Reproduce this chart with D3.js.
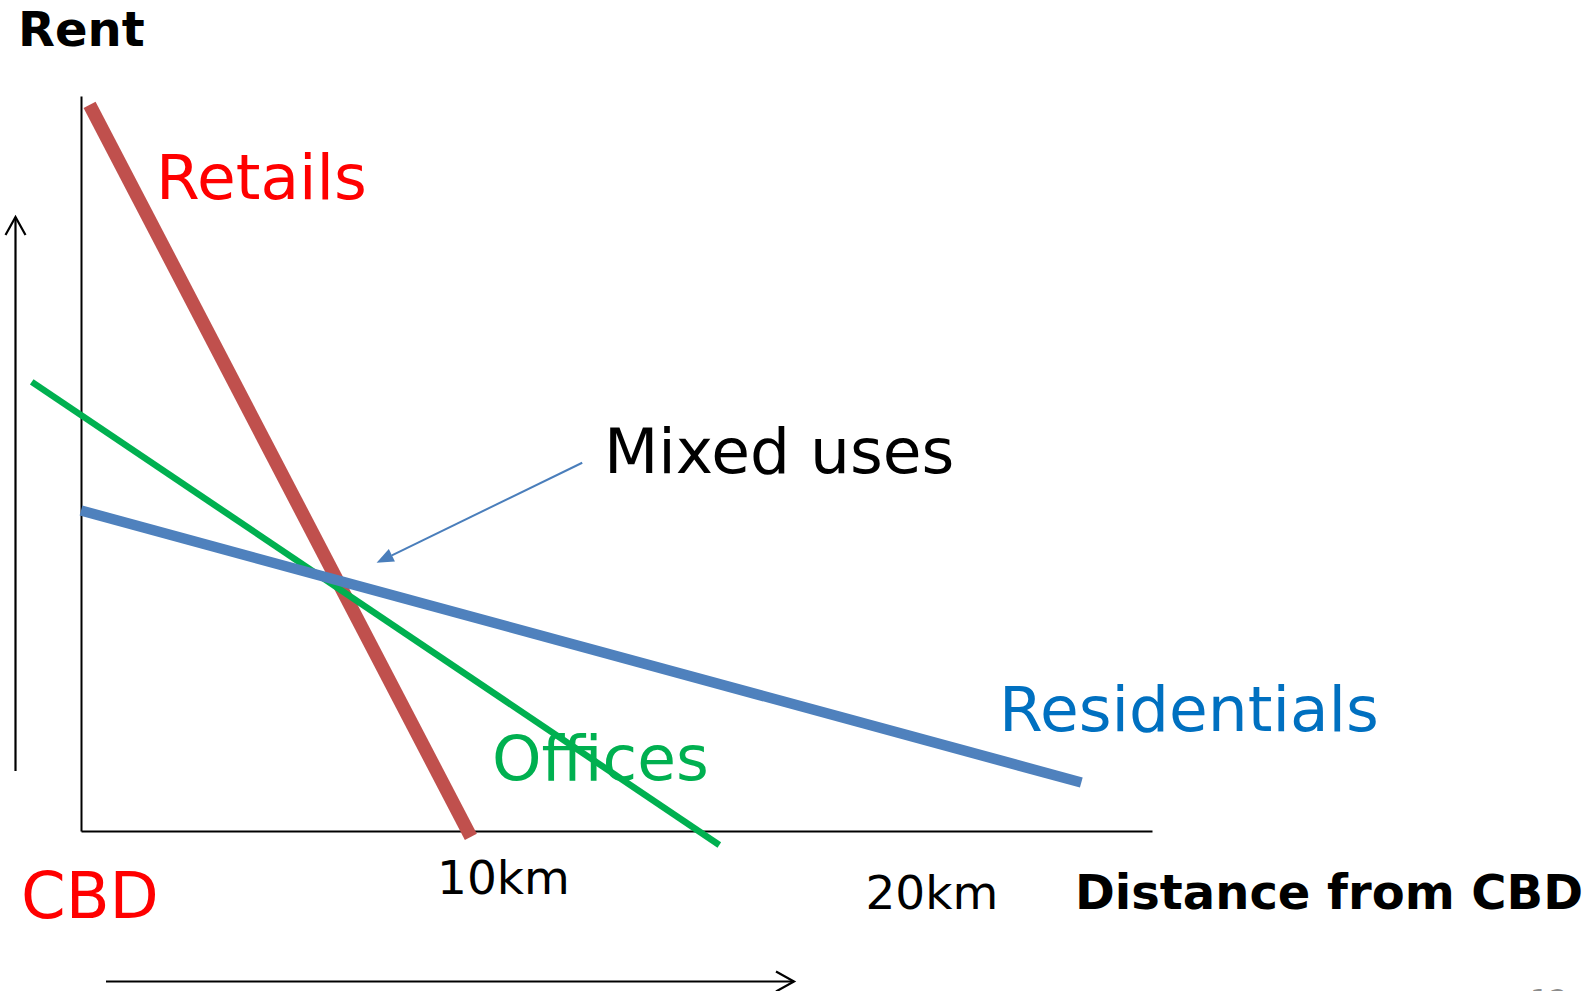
<!DOCTYPE html>
<html>
<head>
<meta charset="utf-8">
<script src="https://cdn.jsdelivr.net/npm/d3@7"></script>
<style>
  html, body { margin: 0; padding: 0; background: #fff; }
  svg { display: block; font-family: "DejaVu Sans", Verdana, sans-serif; }
</style>
</head>
<body>
<svg id="chart" width="1596" height="991"></svg>
<script>
// Bid-rent curves: rent index against distance from the CBD (km)
const landUses = ["Retails", "Offices", "Residentials"];
const distanceKm = {
  Retails:      [0.2, 9.1],
  Offices:      [-1.15, 14.9],
  Residentials: [0, 23.35]
};
const rentIndex = {
  Retails:      [98.8, -0.8],
  Offices:      [61.1, -1.9],
  Residentials: [43.6, 6.6]
};
const tickValues = [10, 20];
const tickLabels = ["10km", "20km"];
// annotation pointing at the point where the three curves cross
const mixedUsesFrom = [11.7, 50.1];
const mixedUsesTo = [6.9, 36.5];

const lineColor = { Retails: "#c0504d", Offices: "#00b050", Residentials: "#4f81bd" };
const lineWidth = { Retails: 13.5, Offices: 6.5, Residentials: 10.5 };
const labelColor = { Retails: "#ff0000", Offices: "#00b050", Residentials: "#0070c0" };

const svg = d3.select("#chart");

const x = d3.scaleLinear().domain([0, 25]).range([81, 1152]);
const y = d3.scaleLinear().domain([0, 100]).range([831, 96]);

// axes drawn as bare domain lines
const xAxis = d3.axisBottom(x).tickValues([]).tickSizeOuter(0);
const yAxis = d3.axisLeft(y).tickValues([]).tickSizeOuter(0);
svg.append("g").attr("transform", `translate(0,${y(0)})`).call(xAxis)
  .select(".domain").attr("stroke", "#000").attr("stroke-width", 2);
svg.append("g").attr("transform", `translate(${x(0)},0)`).call(yAxis)
  .select(".domain").attr("stroke", "#000").attr("stroke-width", 2);

// curves
const line = d3.line().x(d => x(d[0])).y(d => y(d[1]));
landUses.forEach(k => {
  const pts = distanceKm[k].map((d, i) => [d, rentIndex[k][i]]);
  svg.append("path")
    .datum(pts)
    .attr("d", line)
    .attr("fill", "none")
    .attr("stroke", lineColor[k])
    .attr("stroke-width", lineWidth[k])
    .attr("stroke-linecap", "butt");
});

// curve labels
const labelPos = {
  Retails: [156, 199],
  Offices: [492, 780],
  Residentials: [999, 731]
};
landUses.forEach(k => {
  svg.append("text")
    .attr("x", labelPos[k][0])
    .attr("y", labelPos[k][1])
    .attr("fill", labelColor[k])
    .attr("font-size", 63)
    .text(k);
});

// "Mixed uses" callout with filled arrowhead
const ax0 = x(mixedUsesFrom[0]), ay0 = y(mixedUsesFrom[1]);
const ax1 = x(mixedUsesTo[0]), ay1 = y(mixedUsesTo[1]);
const ang = Math.atan2(ay1 - ay0, ax1 - ax0);
const headLen = 17, headHalf = 7;
const bx = ax1 - headLen * Math.cos(ang), by = ay1 - headLen * Math.sin(ang);
svg.append("line")
  .attr("x1", ax0).attr("y1", ay0).attr("x2", bx).attr("y2", by)
  .attr("stroke", "#4a7ebb").attr("stroke-width", 2);
svg.append("path")
  .attr("d", d3.line()([
    [ax1, ay1],
    [bx + headHalf * Math.sin(ang), by - headHalf * Math.cos(ang)],
    [bx - headHalf * Math.sin(ang), by + headHalf * Math.cos(ang)]
  ]) + "Z")
  .attr("fill", "#4a7ebb");
svg.append("text")
  .attr("x", 604).attr("y", 473)
  .attr("font-size", 63).attr("fill", "#000")
  .text("Mixed uses");

// distance tick labels
const tickBaseline = [894, 909];
tickValues.forEach((v, i) => {
  svg.append("text")
    .attr("x", x(v) - 6).attr("y", tickBaseline[i])
    .attr("text-anchor", "middle")
    .attr("font-size", 47).attr("fill", "#000")
    .text(tickLabels[i]);
});

// axis titles and CBD marker
svg.append("text").attr("x", 18).attr("y", 46)
  .attr("font-size", 48).attr("font-weight", "bold").attr("fill", "#000")
  .text("Rent");
svg.append("text").attr("x", 1075).attr("y", 909)
  .attr("font-size", 48).attr("font-weight", "bold").attr("fill", "#000")
  .text("Distance from CBD");
svg.append("text").attr("x", 21).attr("y", 918)
  .attr("font-size", 64).attr("fill", "#ff0000")
  .text("CBD");

// direction arrows beside the axes
function openArrow(x1, y1, x2, y2) {
  const a = Math.atan2(y2 - y1, x2 - x1), L = 18, W = 10;
  const g = svg.append("g").attr("stroke", "#000").attr("stroke-width", 2.2).attr("fill", "none");
  g.append("line").attr("x1", x1).attr("y1", y1).attr("x2", x2).attr("y2", y2);
  const px = x2 - L * Math.cos(a), py = y2 - L * Math.sin(a);
  g.append("path").attr("d", d3.line()([
    [px + W * Math.sin(a), py - W * Math.cos(a)],
    [x2, y2],
    [px - W * Math.sin(a), py + W * Math.cos(a)]
  ]));
}
openArrow(15.5, 771, 15.5, 217);
openArrow(106, 981.5, 794, 981.5);

// slide number, mostly below the visible area
svg.append("text").attr("x", 1530).attr("y", 1011)
  .attr("font-size", 30).attr("fill", "#8c8c8c")
  .text("12");
</script>
</body>
</html>
